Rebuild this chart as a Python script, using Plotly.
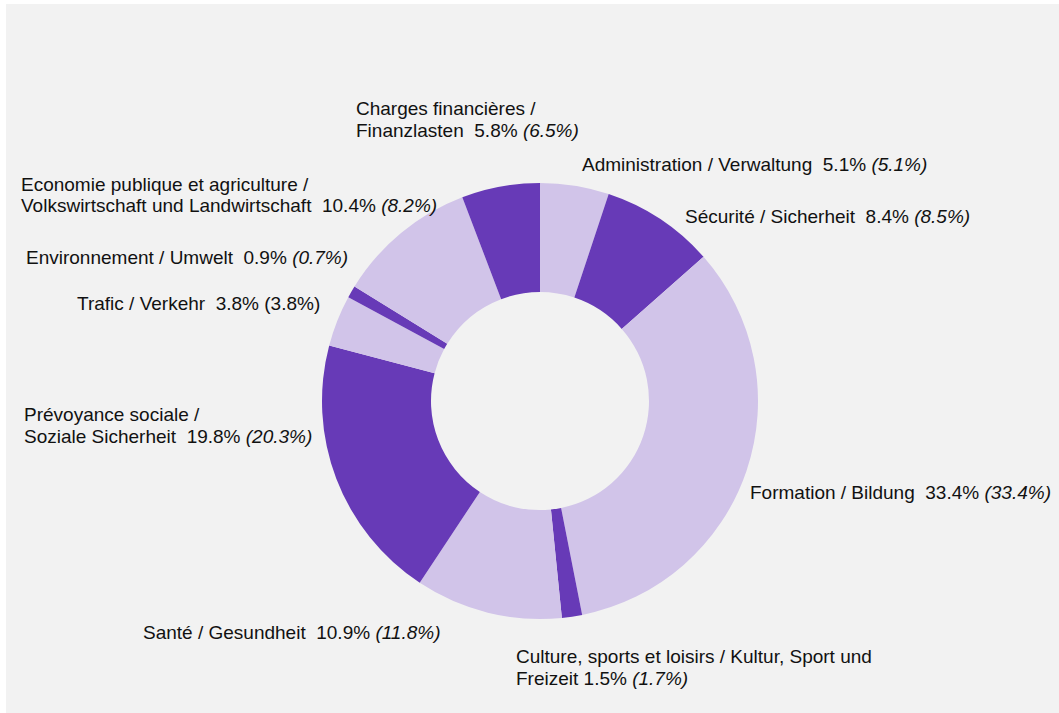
import plotly.graph_objects as go

W, H = 1059, 713

categories = [
    ["Administration / Verwaltung"],
    ["Sécurité / Sicherheit"],
    ["Formation / Bildung"],
    ["Culture, sports et loisirs / Kultur, Sport und", "Freizeit"],
    ["Santé / Gesundheit"],
    ["Prévoyance sociale /", "Soziale Sicherheit"],
    ["Trafic / Verkehr"],
    ["Environnement / Umwelt"],
    ["Economie publique et agriculture /", "Volkswirtschaft und Landwirtschaft"],
    ["Charges financières /", "Finanzlasten"],
]
shares = [5.1, 8.4, 33.4, 1.5, 10.9, 19.8, 3.8, 0.9, 10.4, 5.8]
previous = [5.1, 8.5, 33.4, 1.7, 11.8, 20.3, 3.8, 0.7, 8.2, 6.5]
italic_prev = [True, True, True, True, True, True, False, True, True, True]
separators = ["&nbsp; "] * 10
separators[3] = " "

colors = ["#d1c4e9", "#673ab7"] * 5

# label placement (pixels: left edge, vertical centre of first line)
label_pos = [
    (580, 164), (683, 216), (748, 492), (514, 656), (141, 632),
    (22, 414), (75, 303), (24, 257), (19, 184), (354, 108),
]
LINE = 22

cx, cy, R = 540, 401, 218

fig = go.Figure(go.Pie(
    values=shares,
    labels=[" ".join(c) for c in categories],
    hole=0.5,
    sort=False,
    direction="clockwise",
    rotation=0,
    marker=dict(colors=colors, line=dict(width=0)),
    textinfo="none",
    hoverinfo="label+value",
    showlegend=False,
    domain=dict(
        x=[(cx - R) / W, (cx + R) / W],
        y=[(H - cy - R) / H, (H - cy + R) / H],
    ),
))

font = dict(family="Liberation Sans, Arial, sans-serif", size=19, color="#111111")
annotations = []
for cat, s, p, it, sep, (px, py) in zip(categories, shares, previous, italic_prev, separators, label_pos):
    prev_txt = f"({p:.1f}%)"
    if it:
        prev_txt = f"<i>{prev_txt}</i>"
    lines = list(cat)
    lines[-1] = f"{lines[-1]}{sep}{s:.1f}% {prev_txt}"
    for i, ln in enumerate(lines):
        annotations.append(dict(
            x=px / W, y=1 - (py + i * LINE) / H, xref="paper", yref="paper",
            xanchor="left", yanchor="middle", align="left",
            text=ln, showarrow=False, font=font,
        ))

fig.update_layout(
    width=W, height=H,
    margin=dict(l=0, r=0, t=0, b=0),
    paper_bgcolor="#f2f2f2",
    plot_bgcolor="#f2f2f2",
    annotations=annotations,
    shapes=[
        dict(type="rect", xref="paper", yref="paper", x0=0, x1=6 / W, y0=0, y1=1,
             fillcolor="white", line=dict(width=0), layer="below"),
        dict(type="rect", xref="paper", yref="paper", x0=0, x1=1, y0=1 - 4 / H, y1=1,
             fillcolor="white", line=dict(width=0), layer="below"),
    ],
)

fig.write_html("out.html", config={"displayModeBar": False},
               post_script="document.body.style.margin='0px';")
